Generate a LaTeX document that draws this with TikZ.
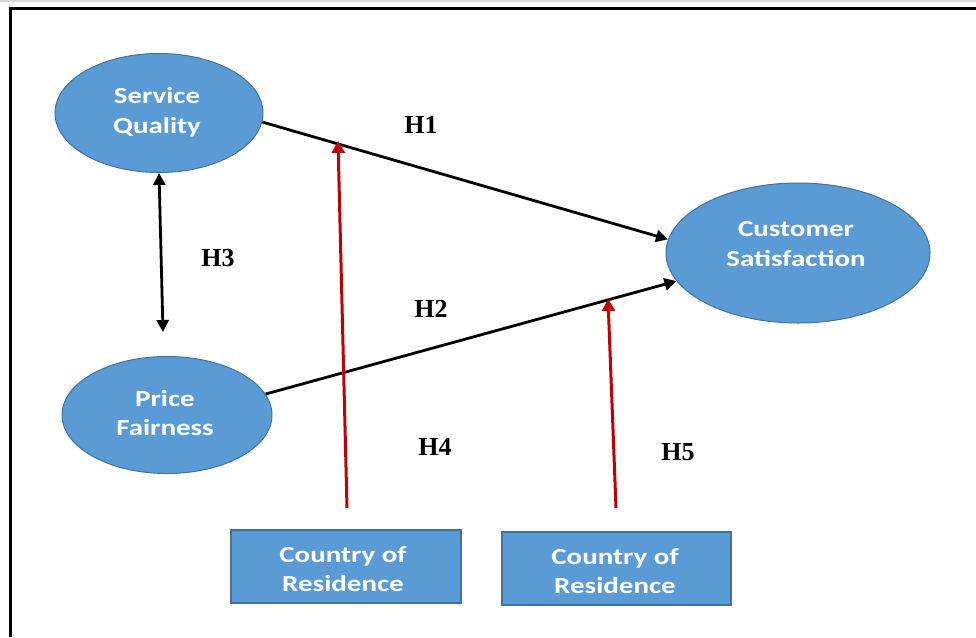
\documentclass[tikz,border=0pt]{standalone}
\usepackage{fontspec}
\setmainfont{Liberation Serif}
\newfontfamily\calb[FakeStretch=1.26]{Carlito}
\usetikzlibrary{shapes.geometric,arrows.meta}
\definecolor{fillblue}{HTML}{5B9BD5}
\definecolor{edgeblue}{HTML}{41719C}
\definecolor{redarrow}{HTML}{C00000}
\definecolor{topgray}{HTML}{D9D9D9}
\tikzset{
  construct/.style={ellipse, fill=fillblue, draw=edgeblue, line width=1pt, inner sep=0pt},
  ctrlbox/.style={rectangle, fill=fillblue, draw=edgeblue, line width=1.2pt, inner sep=0pt},
  wtext/.style={text=white, font=\calb\bfseries\fontsize{23}{29.5}\selectfont, align=center, inner sep=0pt},
  hyp/.style={font=\bfseries\fontsize{26}{30}\selectfont, inner sep=0pt},
  blackarrow/.style={draw=black, line width=2.8pt, -{Triangle[length=12pt,width=12pt]}},
  dblarrow/.style={draw=black, line width=2.8pt, {Triangle[length=12pt,width=12pt]}-{Triangle[length=12pt,width=12pt]}},
  redline/.style={draw=redarrow, line width=3pt, -{Triangle[length=12pt,width=13pt]}},
}
\begin{document}
\begin{tikzpicture}[x=1pt,y=-1pt]
\useasboundingbox (0,0) rectangle (976,637);
\fill[topgray] (0,0) rectangle (976,2);
\draw[line width=3pt] (10,637) -- (10,8) -- (976,8);

% constructs
\node[construct, minimum width=208pt, minimum height=119pt] (sq) at (159,113) {};
\node[wtext] (sqt) at (157,112) {Service\\Quality};
\node[construct, minimum width=210pt, minimum height=117pt] (pf) at (167,415) {};
\node[wtext] (pft) at (165,413) {Price\\Fairness};
\node[construct, minimum width=264pt, minimum height=140pt] (cs) at (798,253) {};
\node[wtext] (cst) at (796,244) {Customer\\Satisfaction};

% moderator boxes
\node[ctrlbox, minimum width=230pt, minimum height=73pt] (cr1) at (346,566.5) {};
\node[wtext] (cr1t) at (343,569) {Country of\\Residence};
\node[ctrlbox, minimum width=229pt, minimum height=73pt] (cr2) at (616.5,568.5) {};
\node[wtext] (cr2t) at (615,571) {Country of\\Residence};

% paths
\draw[blackarrow] (sq.-5) -- (cs.174.5);
\draw[blackarrow] (pf.12) -- (cs.193.5);
\coordinate (h3end) at (163,332);
\draw[dblarrow] (sq.south) -- (h3end);

% moderation arrows
\coordinate (r1s) at (347,508);
\coordinate (r1e) at (338,141);
\coordinate (r2s) at (616,508);
\coordinate (r2e) at (608,299);
\draw[redline] (r1s) -- (r1e);
\draw[redline] (r2s) -- (r2e);

% hypothesis labels
\node[hyp] (h1) at (421,125) {H1};
\node[hyp] (h2) at (431,309) {H2};
\node[hyp] (h3) at (218,258) {H3};
\node[hyp] (h4) at (435,447) {H4};
\node[hyp] (h5) at (678,452) {H5};
\end{tikzpicture}
\end{document}
